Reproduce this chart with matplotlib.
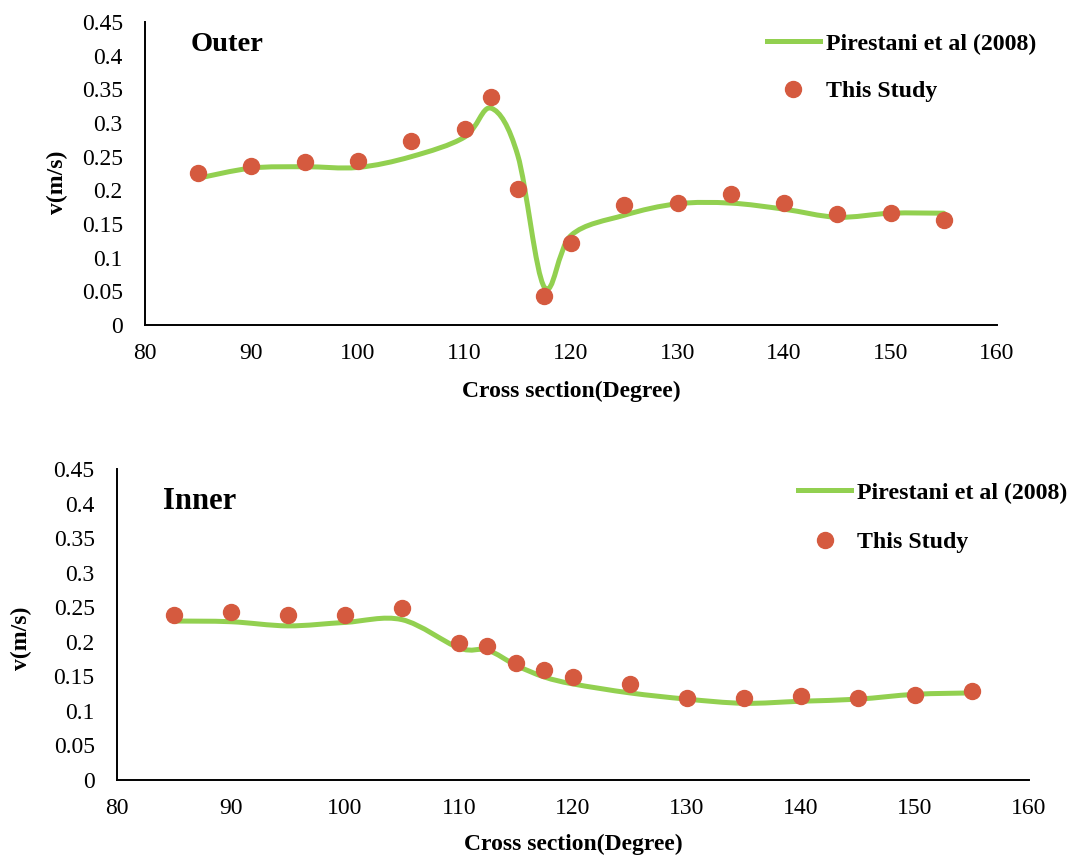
import matplotlib
matplotlib.use("Agg")
import matplotlib.pyplot as plt
import numpy as np
from matplotlib.path import Path
from matplotlib.patches import PathPatch
from matplotlib.lines import Line2D
from matplotlib.ticker import FuncFormatter

plt.rcParams["font.family"] = "Liberation Serif"
plt.rcParams["font.size"] = 17

GREEN = "#92D050"
RED = "#D55A3F"

# cross sections (degree)
sections = [85, 90, 95, 100, 105, 110, 112.5, 115, 117.5, 120,
            125, 130, 135, 140, 145, 150, 155]

# outer bank
outer_pirestani = [0.218, 0.233, 0.235, 0.234, 0.250, 0.279, 0.322, 0.252, 0.056,
                   0.133, 0.163, 0.180, 0.181, 0.172, 0.160, 0.166, 0.166]
outer_study = [0.226, 0.236, 0.242, 0.244, 0.273, 0.291, 0.339, 0.202, 0.043,
               0.122, 0.178, 0.181, 0.195, 0.181, 0.165, 0.166, 0.156]

# inner bank
inner_pirestani = [0.230, 0.229, 0.223, 0.228, 0.232, 0.191, 0.188, 0.166, 0.149,
                   0.139, 0.126, 0.117, 0.111, 0.114, 0.117, 0.124, 0.126]
inner_study = [0.239, 0.243, 0.239, 0.239, 0.249, 0.198, 0.194, 0.169, 0.159,
               0.149, 0.139, 0.119, 0.119, 0.122, 0.119, 0.123, 0.129]

xticks = [80, 90, 100, 110, 120, 130, 140, 150, 160]
yticks = [0, 0.05, 0.1, 0.15, 0.2, 0.25, 0.3, 0.35, 0.4, 0.45]


def smooth_path(x, y):
    # excel style smoothed line (catmull-rom as bezier)
    p = np.column_stack([x, y]).astype(float)
    ext = np.vstack([p[0], p, p[-1]])
    verts = [p[0]]
    codes = [Path.MOVETO]
    for i in range(len(p) - 1):
        p0, p1, p2, p3 = ext[i], ext[i + 1], ext[i + 2], ext[i + 3]
        c1 = p1 + (p2 - p0) / 6.0
        c2 = p2 - (p3 - p1) / 6.0
        verts += [c1, c2, p2]
        codes += [Path.CURVE4] * 3
    return Path(verts, codes)


def draw_panel(ax, line_vals, pts, title, title_pos, title_size, leg_anchor, leg_space):
    ax.add_patch(PathPatch(smooth_path(sections, line_vals), fill=False,
                           edgecolor=GREEN, lw=3.6, capstyle="round"))
    ax.plot(sections, pts, "o", ls="none", color=RED, ms=11.5)
    ax.set_xlim(80, 160)
    ax.set_ylim(0, 0.45)
    ax.set_xticks(xticks)
    ax.set_yticks(yticks)
    ax.yaxis.set_major_formatter(FuncFormatter(lambda v, _: f"{round(v, 2):g}"))
    ax.tick_params(length=0)
    ax.tick_params(axis="y", pad=16)
    ax.tick_params(axis="x", pad=13)
    for s in ["top", "right"]:
        ax.spines[s].set_visible(False)
    for s in ["left", "bottom"]:
        ax.spines[s].set_linewidth(1.4)
    ax.text(title_pos[0], title_pos[1], title, transform=ax.transAxes,
            fontsize=title_size, fontweight="bold", va="center", ha="left")
    handles = [Line2D([], [], color=GREEN, lw=3.6),
               Line2D([], [], marker="o", ls="none", color=RED, ms=11.5)]
    ax.legend(handles, ["Pirestani et al (2008)", "This Study"], loc="upper left",
              bbox_to_anchor=leg_anchor, frameon=False, borderpad=0,
              borderaxespad=0, handlelength=2.2, handletextpad=0.25,
              labelspacing=leg_space, numpoints=1,
              prop={"weight": "bold", "size": 17.2})


fig = plt.figure(figsize=(10.7, 8.55), dpi=100)
ax1 = fig.add_axes([0.1355, 0.6199, 0.7963, 0.3544])
ax2 = fig.add_axes([0.1093, 0.0877, 0.8524, 0.3638])

draw_panel(ax1, outer_pirestani, outer_study, "Outer", (0.053, 0.925), 20.5,
           (0.730, 0.964), 1.07)
draw_panel(ax2, inner_pirestani, inner_study, "Inner", (0.05, 0.895), 22,
           (0.747, 0.958), 1.15)

ax1.set_xlabel("Cross section(Degree)", fontweight="bold")
ax1.xaxis.set_label_coords(0.5, -0.185)
ax1.set_ylabel("v(m/s)", fontweight="bold")
ax1.yaxis.set_label_coords(-0.09, 0.472)

ax2.set_xlabel("Cross section(Degree)", fontweight="bold")
ax2.xaxis.set_label_coords(0.5, -0.174)
ax2.set_ylabel("v(m/s)", fontweight="bold")
ax2.yaxis.set_label_coords(-0.093, 0.457)

fig.savefig("out.png", dpi=100)
